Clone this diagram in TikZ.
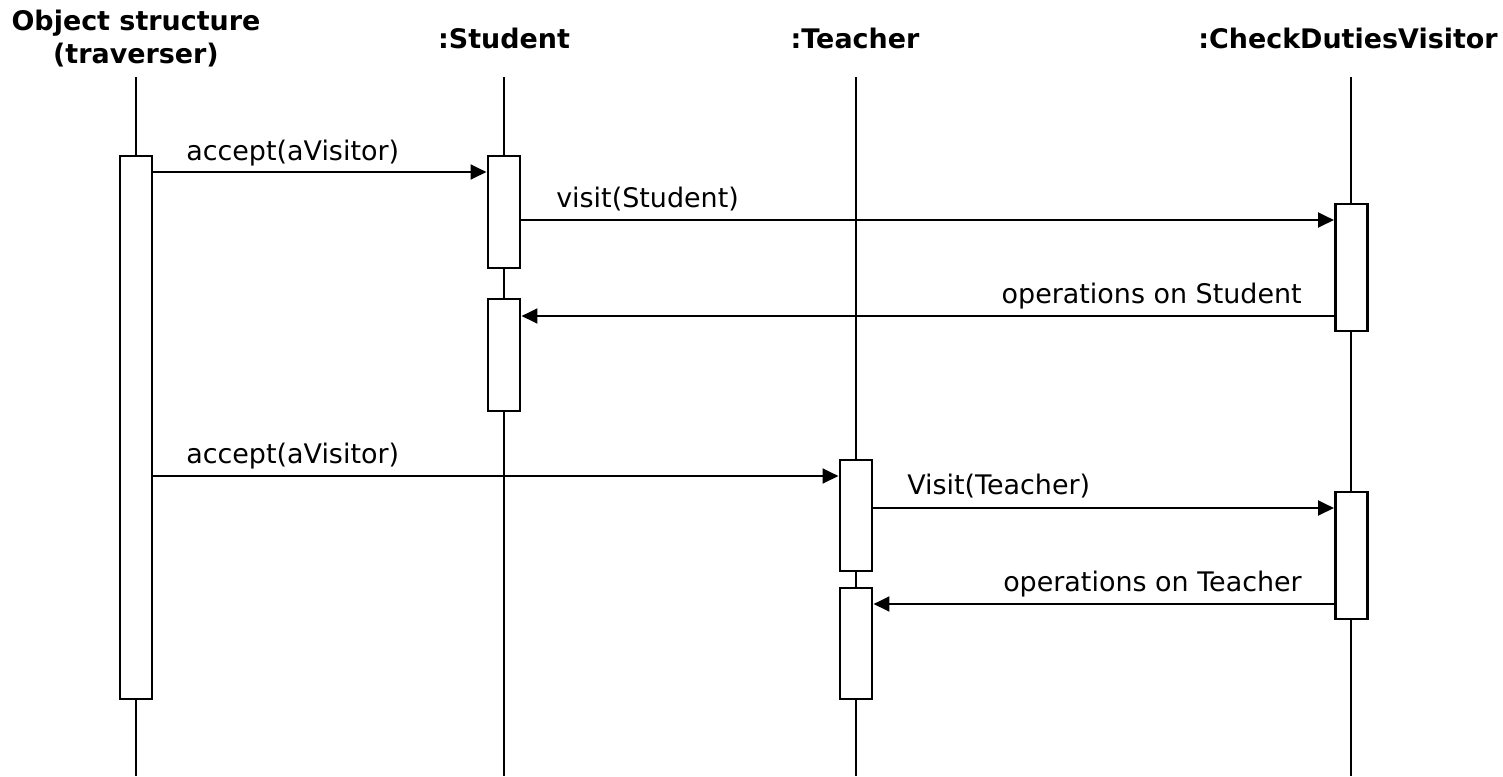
\documentclass[tikz,border=0pt]{standalone}
\usepackage{fontspec}
\setmainfont{DejaVu Sans}
\usetikzlibrary{arrows.meta}
\begin{document}
\begin{tikzpicture}[x=0.75pt,y=-0.75pt,
  every node/.style={font=\fontsize{20.2}{24.75}\selectfont},
  title/.style={font=\fontsize{20.2}{24.75}\selectfont\bfseries, inner sep=0pt, align=center},
  lifeline/.style={line width=2.2pt},
  actbox/.style={draw, fill=white, line width=2.2pt, minimum width=24pt, inner sep=0pt},
  msg/.style={line width=2.2pt, -{Triangle[length=12pt,width=11pt]}},
  lbl/.style={inner sep=0pt}]
\useasboundingbox (0,0) rectangle (1503,776);

% object headers
\node[title, anchor=base] (hobj) at (136,63) {Object structure\\(traverser)};
\node[title, anchor=base] (hstu) at (504,48) {:Student};
\node[title, anchor=base] (htea) at (855,48) {:Teacher};
\node[title, anchor=base] (hvis) at (1348,48) {:CheckDutiesVisitor};

% lifelines
\coordinate (lobjT) at (136,77);  \coordinate (lobjB) at (136,776);
\coordinate (lstuT) at (504,77);  \coordinate (lstuB) at (504,776);
\coordinate (lteaT) at (856,77);  \coordinate (lteaB) at (856,776);
\coordinate (lvisT) at (1351,77); \coordinate (lvisB) at (1351,776);
\draw[lifeline] (lobjT) -- (lobjB);
\draw[lifeline] (lstuT) -- (lstuB);
\draw[lifeline] (lteaT) -- (lteaB);
\draw[lifeline] (lvisT) -- (lvisB);

% activation bars
\node[actbox, minimum height=407.25pt] (aobj) at (136,427.5) {};
\node[actbox, minimum height=84pt] (as1) at (504,212) {};
\node[actbox, minimum height=84pt] (as2) at (504,355) {};
\node[actbox, minimum height=83.25pt] (at1) at (856,515.5) {};
\node[actbox, minimum height=83.25pt] (at2) at (856,643.5) {};
\node[actbox, minimum height=95.25pt] (av1) at (1351.5,267.5) {};
\node[actbox, minimum height=95.25pt] (av2) at (1351.5,555.5) {};

% messages
\draw[msg] (aobj.east |- 0,172) -- (as1.west |- 0,172);
\node[lbl, anchor=base west] (m1) at (186,160) {accept(aVisitor)};

\draw[msg] (as1.east |- 0,220) -- (av1.west |- 0,220);
\node[lbl, anchor=base west] (m2) at (556,207) {visit(Student)};

\draw[msg] (av1.west |- 0,316) -- (as2.east |- 0,316);
\node[lbl, anchor=base east] (m3) at (1302,303) {operations on Student};

\draw[msg] (aobj.east |- 0,476) -- (at1.west |- 0,476);
\node[lbl, anchor=base west] (m4) at (186,463) {accept(aVisitor)};

\draw[msg] (at1.east |- 0,508) -- (av2.west |- 0,508);
\node[lbl, anchor=base west] (m5) at (907,494) {Visit(Teacher)};

\draw[msg] (av2.west |- 0,604) -- (at2.east |- 0,604);
\node[lbl, anchor=base east] (m6) at (1302,591) {operations on Teacher};
\end{tikzpicture}
\end{document}
